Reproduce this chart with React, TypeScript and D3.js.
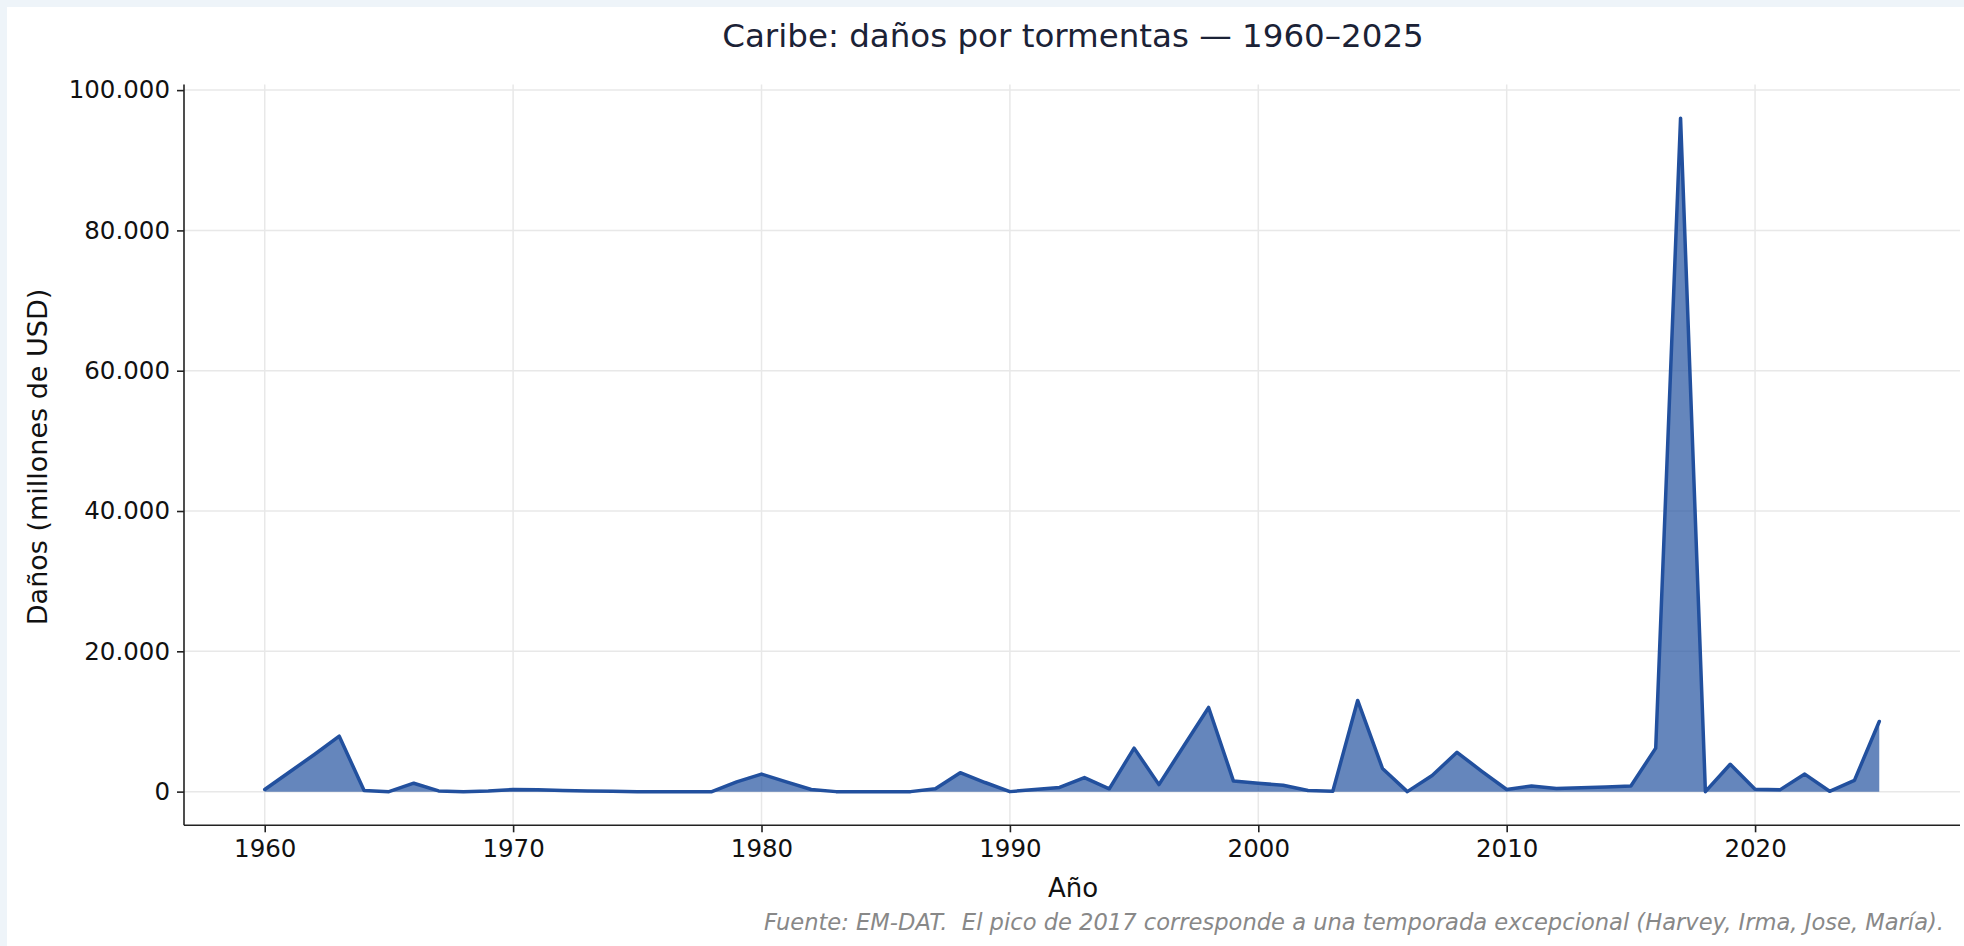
import React, { useEffect, useRef } from "react";
import * as d3 from "d3";

// años y daños (millones de USD)
const years = [
  1960, 1961, 1962, 1963, 1964, 1965, 1966, 1967, 1968, 1969,
  1970, 1971, 1972, 1973, 1974, 1975, 1976, 1977, 1978, 1979,
  1980, 1981, 1982, 1983, 1984, 1985, 1986, 1987, 1988, 1989,
  1990, 1991, 1992, 1993, 1994, 1995, 1996, 1997, 1998, 1999,
  2000, 2001, 2002, 2003, 2004, 2005, 2006, 2007, 2008, 2009,
  2010, 2011, 2012, 2013, 2014, 2015, 2016, 2017, 2018, 2019,
  2020, 2021, 2022, 2023, 2024, 2025,
];

const damages = [
  300, 2800, 5300, 7900, 150, 0, 1200, 100, 0, 100,
  300, 250, 150, 100, 50, 0, 0, 0, 0, 1400,
  2500, 1400, 300, 0, 0, 0, 0, 400, 2700, 1300,
  0, 300, 600, 2000, 400, 6200, 1000, 6500, 12000, 1500,
  1200, 900, 150, 50, 13000, 3300, 0, 2300, 5600, 2900,
  300, 800, 450, 550, 650, 800, 6200, 96000, 0, 3900,
  350, 250, 2500, 50, 1600, 10000,
];

const xTicks = [1960, 1970, 1980, 1990, 2000, 2010, 2020];
const yTicks = [0, 20000, 40000, 60000, 80000, 100000];

const title = "Caribe: daños por tormentas — 1960–2025";
const xLabel = "Año";
const yLabel = "Daños (millones de USD)";
const note =
  "Fuente: EM-DAT.  El pico de 2017 corresponde a una temporada excepcional (Harvey, Irma, Jose, María).";

const PAGE_MARGIN = 7;
const W = 1964 - PAGE_MARGIN;
const H = 946 - PAGE_MARGIN;
const FONT = "'DejaVu Sans', sans-serif";

export default function App() {
  const svgRef = useRef<SVGSVGElement>(null);

  useEffect(() => {
    document.body.style.margin = `${PAGE_MARGIN}px 0 0 ${PAGE_MARGIN}px`;
    document.body.style.background = "#eef4f9";
    document.body.style.overflow = "hidden";

    const svg = d3.select(svgRef.current);
    svg.selectAll("*").remove();

    // plot box in page pixels, shifted by the body margin
    const left = 184 - PAGE_MARGIN;
    const right = 1960 - PAGE_MARGIN;
    const top = 84.5 - PAGE_MARGIN;
    const bottom = 825.3 - PAGE_MARGIN;

    const data = years.map((y, i) => ({ year: y, value: damages[i] }));

    const xPad = (d3.max(years)! - d3.min(years)!) * 0.05;
    const x = d3
      .scaleLinear()
      .domain([d3.min(years)! - xPad, d3.max(years)! + xPad])
      .range([left, right]);

    const yMax = d3.max(damages)!;
    const y = d3
      .scaleLinear()
      .domain([-yMax * 0.05, yMax * 1.05])
      .range([bottom, top]);

    const loc = d3.formatLocale({
      decimal: ",",
      thousands: ".",
      grouping: [3],
      currency: ["", ""],
    });
    const fmt = loc.format(",.0f");

    svg.append("rect").attr("width", W).attr("height", H).attr("fill", "#ffffff");

    // grid
    const grid = svg.append("g").attr("stroke", "#e8e8e8").attr("stroke-width", 1.5);
    grid
      .selectAll(".gx")
      .data(xTicks)
      .enter()
      .append("line")
      .attr("x1", (d) => x(d))
      .attr("x2", (d) => x(d))
      .attr("y1", top)
      .attr("y2", bottom);
    grid
      .selectAll(".gy")
      .data(yTicks)
      .enter()
      .append("line")
      .attr("x1", left)
      .attr("x2", right)
      .attr("y1", (d) => y(d))
      .attr("y2", (d) => y(d));

    const area = d3
      .area<{ year: number; value: number }>()
      .x((d) => x(d.year))
      .y0(y(0))
      .y1((d) => y(d.value));

    const line = d3
      .line<{ year: number; value: number }>()
      .x((d) => x(d.year))
      .y((d) => y(d.value));

    svg
      .append("path")
      .datum(data)
      .attr("fill", "#23529f")
      .attr("fill-opacity", 0.7)
      .attr("d", area);

    svg
      .append("path")
      .datum(data)
      .attr("fill", "none")
      .attr("stroke", "#22509e")
      .attr("stroke-width", 3.5)
      .attr("stroke-linejoin", "round")
      .attr("stroke-linecap", "round")
      .attr("d", line);

    // axes
    const xAxis = svg
      .append("g")
      .attr("transform", `translate(0,${bottom})`)
      .call(d3.axisBottom(x).tickValues(xTicks).tickFormat(d3.format("d")).tickSize(7).tickPadding(7));
    xAxis.select(".domain").attr("d", `M${left},0H${right}`);

    const yAxis = svg
      .append("g")
      .attr("transform", `translate(${left},0)`)
      .call(d3.axisLeft(y).tickValues(yTicks).tickFormat((d) => fmt(d as number)).tickSize(7).tickPadding(7));
    yAxis.select(".domain").attr("d", `M0,${top}V${bottom}`);

    [xAxis, yAxis].forEach((a) => {
      a.select(".domain").attr("stroke", "#222").attr("stroke-width", 1.6);
      a.selectAll(".tick line").attr("stroke", "#222").attr("stroke-width", 1.6);
      a.selectAll(".tick text")
        .attr("fill", "#111")
        .style("font-family", FONT)
        .style("font-size", "24.5px");
    });

    svg
      .append("text")
      .attr("x", 1073 - PAGE_MARGIN)
      .attr("y", 38 - PAGE_MARGIN)
      .attr("text-anchor", "middle")
      .attr("dominant-baseline", "middle")
      .attr("fill", "#1b2236")
      .style("font-family", FONT)
      .style("font-size", "32.5px")
      .text(title);

    svg
      .append("text")
      .attr("x", 1073 - PAGE_MARGIN)
      .attr("y", 889 - PAGE_MARGIN)
      .attr("text-anchor", "middle")
      .attr("dominant-baseline", "middle")
      .attr("fill", "#111")
      .style("font-family", FONT)
      .style("font-size", "26px")
      .text(xLabel);

    svg
      .append("text")
      .attr("transform", `translate(${39 - PAGE_MARGIN},${457 - PAGE_MARGIN}) rotate(-90)`)
      .attr("text-anchor", "middle")
      .attr("dominant-baseline", "middle")
      .attr("fill", "#111")
      .style("font-family", FONT)
      .style("font-size", "27px")
      .text(yLabel);

    svg
      .append("text")
      .attr("x", 1944 - PAGE_MARGIN)
      .attr("y", 923 - PAGE_MARGIN)
      .attr("text-anchor", "end")
      .attr("dominant-baseline", "middle")
      .attr("fill", "#888")
      .style("font-family", FONT)
      .style("font-style", "italic")
      .style("font-size", "22.6px")
      .style("white-space", "pre")
      .text(note);
  }, []);

  return <svg ref={svgRef} width={W} height={H} style={{ display: "block" }}></svg>;
}
